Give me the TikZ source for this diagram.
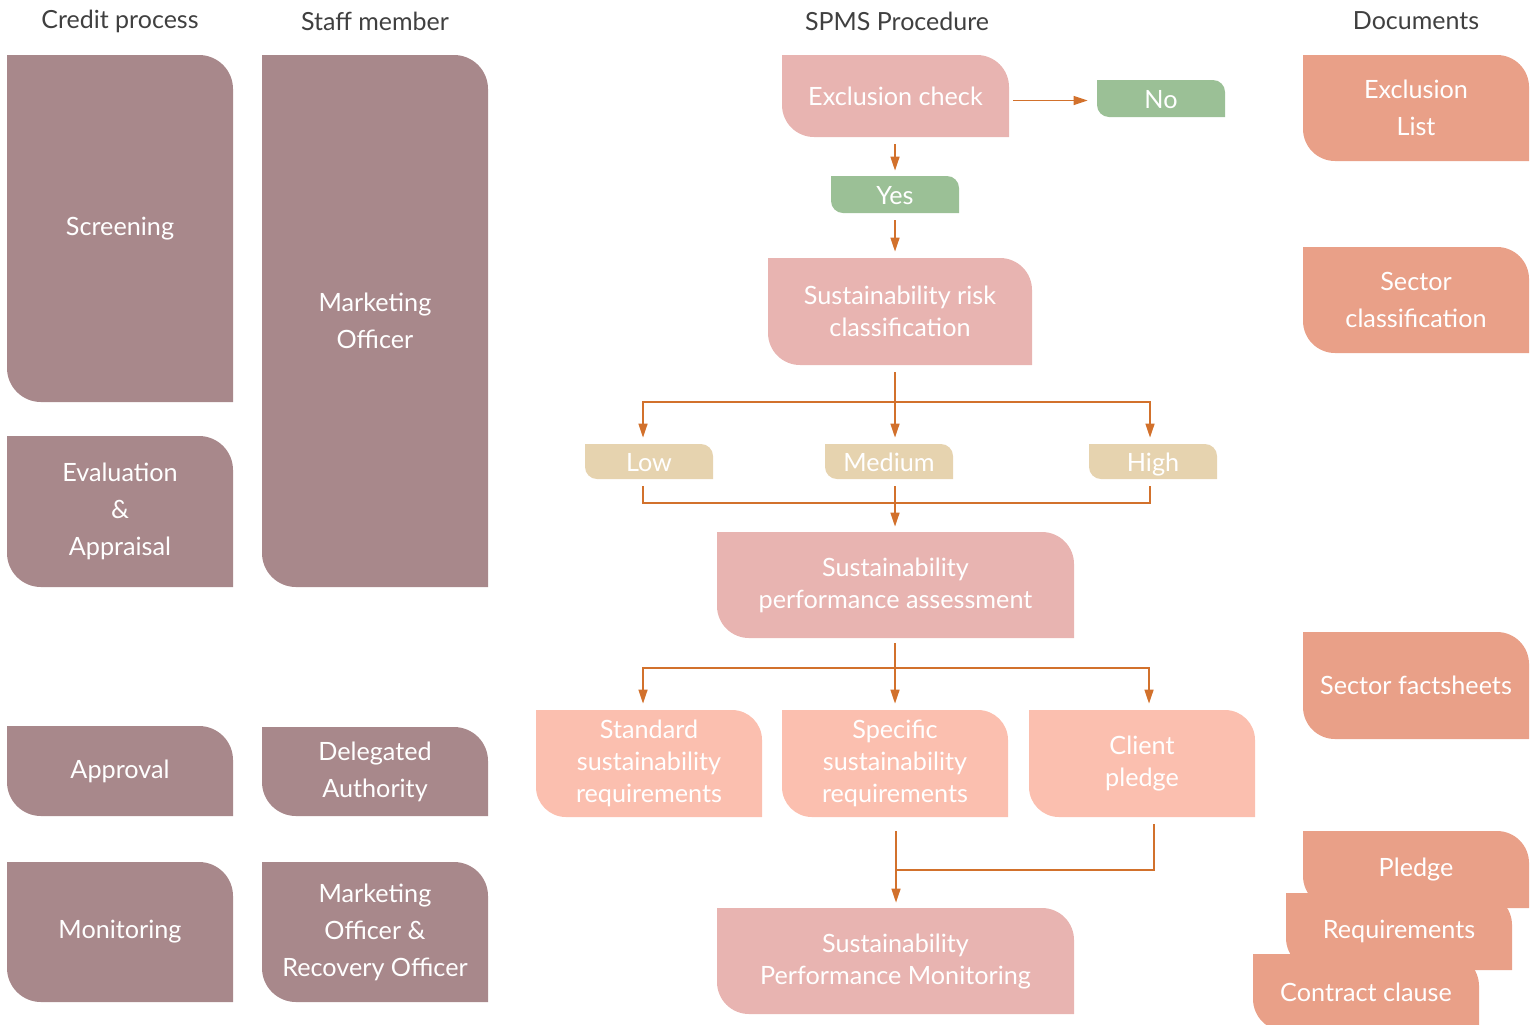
\documentclass[tikz,border=0pt]{standalone}
\usepackage{fontspec}
\setmainfont{Lato}
\usepackage{xcolor}
\usepackage{tikz}
\usetikzlibrary{arrows.meta,positioning}

\definecolor{mauve}{HTML}{A8888B}
\definecolor{procpink}{HTML}{E8B4B1}
\definecolor{okgreen}{HTML}{9BC096}
\definecolor{sand}{HTML}{E6D3AF}
\definecolor{reqsalmon}{HTML}{FBBFAF}
\definecolor{docsalmon}{HTML}{E9A088}
\definecolor{flowor}{HTML}{D2712C}
\definecolor{headgray}{HTML}{404040}

\begin{document}
\begin{tikzpicture}[x=0.5pt,y=-0.5pt,
  % box with rounded top right and bottom left corners
  leaf/.style 2 args={inner sep=0pt, align=center, text=white,
    path picture={
      \fill[#1] (path picture bounding box.north west)
        -- ([xshift=-#2]path picture bounding box.north east)
        arc[start angle=90, end angle=0, radius=#2]
        -- (path picture bounding box.south east)
        -- ([xshift=#2]path picture bounding box.south west)
        arc[start angle=270, end angle=180, radius=#2]
        -- cycle;
    }},
  head/.style={text=headgray, font=\fontsize{12.5}{14}\selectfont},
  stage/.style={leaf={mauve}{17pt}, minimum width=113pt,
    font=\fontsize{12.6}{18.5}\selectfont},
  proc/.style={leaf={procpink}{16pt}, font=\fontsize{12.6}{16}\selectfont},
  tag/.style={leaf={#1}{6pt}, minimum width=64pt, minimum height=18.5pt,
    text height=10pt, text depth=0pt, font=\fontsize{12.6}{14}\selectfont},
  req/.style={leaf={reqsalmon}{15pt}, minimum width=113pt, minimum height=53.5pt,
    font=\fontsize{12.6}{16}\selectfont},
  doc/.style={leaf={docsalmon}{16pt}, minimum width=113pt,
    font=\fontsize{12.6}{18.5}\selectfont},
  wire/.style={draw=flowor, line width=0.75pt},
  feed/.style={wire, -{Triangle[width=4.5pt,length=7pt]}}]

  \useasboundingbox (0,0) rectangle (1534,1024);
  \clip (0,0) rectangle (1534,1024);

  % column heads
  \node[head] (hcredit) at (120,21) {Credit process};
  \node[head] (hstaff) at (375,21) {Staff member};
  \node[head] (hspms) at (897,21) {SPMS Procedure};
  \node[head] (hdocs) at (1416,21) {Documents};

  % credit process
  \node[stage, minimum height=173.5pt] (screen) at (120,228.5) {Screening};
  \node[stage, minimum height=75.5pt] (eval) at (120,511.5) {Evaluation\\\&\\Appraisal};
  \node[stage, minimum height=45pt] (approve) at (120,771) {Approval};
  \node[stage, minimum height=70pt] (monitor) at (120,932) {Monitoring};

  % staff members
  \node[stage, minimum height=266pt] (mo) at (375,321) {Marketing\\Officer};
  \node[stage, minimum height=44.5pt] (da) at (375,771.5) {Delegated\\Authority};
  \node[stage, minimum height=70pt] (moro) at (375,932) {Marketing\\Officer \&\\Recovery Officer};

  % procedure
  \node[proc, minimum width=113.5pt, minimum height=41pt] (excl) at (895.5,96) {Exclusion check};
  \node[tag=okgreen] (no) at (1161,98.5) {No};
  \node[tag=okgreen] (yes) at (895,194.5) {Yes};
  \node[proc, minimum width=132pt, minimum height=53.5pt] (risk) at (900,311.5) {Sustainability risk\\classification};
  \node[tag=sand, minimum height=17.5pt] (low) at (649,461.5) {Low};
  \node[tag=sand, minimum height=17.5pt] (medium) at (889,461.5) {Medium};
  \node[tag=sand, minimum height=17.5pt] (high) at (1153,461.5) {High};
  \node[proc, minimum width=178.5pt, minimum height=53pt] (assess) at (895.5,585) {Sustainability\\performance assessment};
  \node[req] (stdreq) at (649,763.5) {Standard\\sustainability\\requirements};
  \node[req] (specreq) at (895,763.5) {Specific\\sustainability\\requirements};
  \node[req] (pledge) at (1142,763.5) {Client\\pledge};
  \node[proc, minimum width=178.5pt, minimum height=53pt] (perfmon) at (895.5,961) {Sustainability\\Performance Monitoring};

  % documents
  \node[doc, minimum height=53pt] (exlist) at (1416,108) {Exclusion\\List};
  \node[doc, minimum height=53pt] (sectcl) at (1416,300) {Sector\\classification};
  \node[doc, minimum height=53.5pt] (sectfs) at (1416,685.5) {Sector factsheets};
  \node[doc, minimum height=38.5pt] (dpledge) at (1416,869.5) {Pledge};
  \node[doc, minimum height=38.5pt] (dreq) at (1399,931.5) {Requirements};
  \node[doc, minimum height=38.5pt] (dclause) at (1366,992.5) {Contract clause};

  % arrows
  \draw[feed, shorten <=2pt, shorten >=4.5pt] ([yshift=-1pt]excl.east |- no.west) -- ([yshift=-1pt]no.west);
  \draw[feed, shorten <=3.5pt, shorten >=2.5pt] (excl.south -| yes.north) -- (yes.north);
  \draw[feed, shorten <=3.5pt, shorten >=3pt] (yes.south) -- (yes.south |- risk.north);

  \coordinate (fork1) at (895,402);
  \draw[wire, shorten <=3.5pt] (fork1 |- risk.south) -- (fork1);
  \draw[feed, shorten >=3pt] (fork1) -| ([xshift=-3pt]low.north);
  \draw[feed, shorten >=3pt] (fork1) -- (fork1 |- medium.north);
  \draw[feed, shorten >=3pt] (fork1) -| ([xshift=-1.5pt]high.north);

  \coordinate (join1) at (895,503);
  \draw[wire] ([xshift=-3pt,yshift=-3.5pt]low.south) |- (join1) -| ([xshift=-1.5pt,yshift=-3.5pt]high.south);
  \draw[feed, shorten <=3.5pt, shorten >=2.5pt] (join1 |- medium.south) -- (join1 |- assess.north);

  \coordinate (fork2) at (895,668);
  \draw[wire, shorten <=2.5pt] (fork2 |- assess.south) -- (fork2);
  \draw[feed, shorten >=3pt] (fork2) -| ([xshift=-3pt]stdreq.north);
  \draw[feed, shorten >=3pt] (fork2) -- (fork2 |- specreq.north);
  \draw[feed, shorten >=3pt] (fork2) -| ([xshift=3.5pt]pledge.north);

  \coordinate (join2) at (896,870);
  \draw[feed, shorten <=7pt, shorten >=2.5pt] (join2 |- specreq.south) -- (join2 |- perfmon.north);
  \draw[wire] ([xshift=6pt,yshift=-3.5pt]pledge.south) |- (join2);
\end{tikzpicture}
\end{document}
